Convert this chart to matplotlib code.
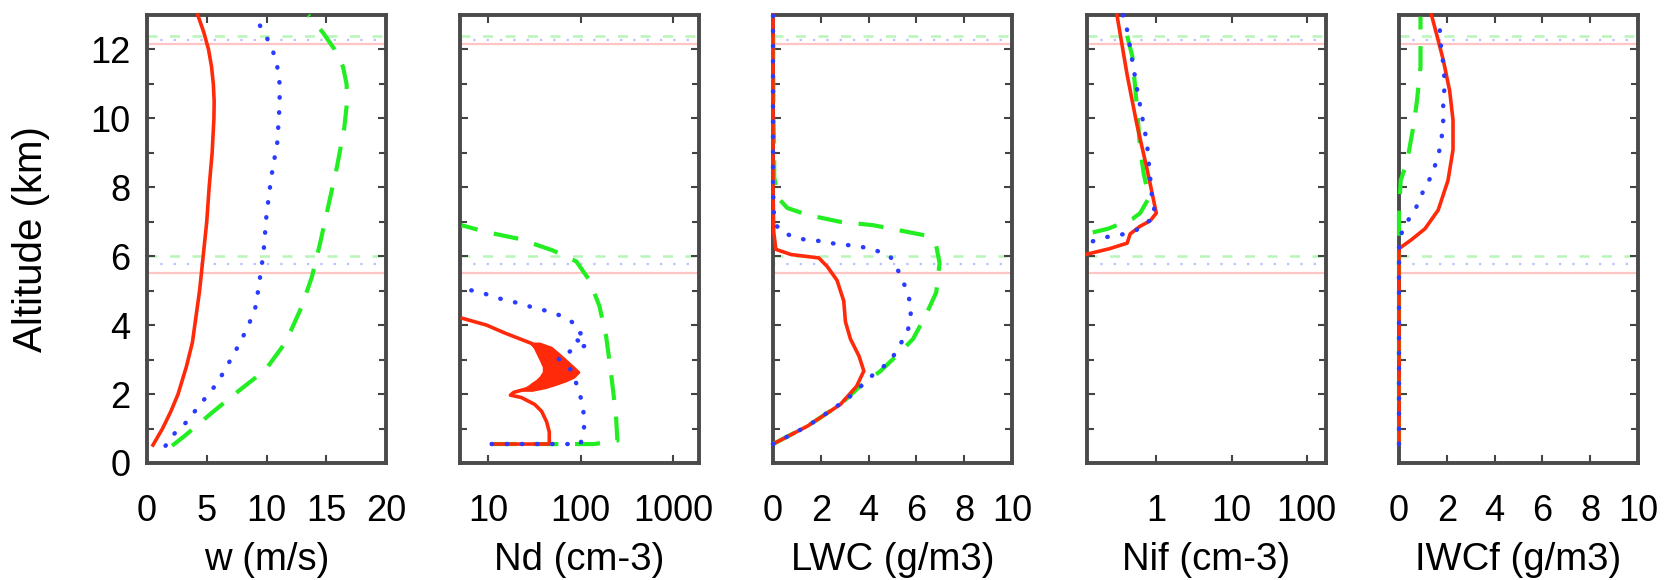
import numpy as np
import matplotlib
matplotlib.use("Agg")
import matplotlib.pyplot as plt
from matplotlib.ticker import MultipleLocator, NullLocator, FixedLocator, FixedFormatter

plt.rcParams['font.family'] = ['Liberation Sans', 'DejaVu Sans']

# --- data (altitude in km) ---
# w (m/s)
w_red_z = [0.52, 1.0, 1.5, 2.0, 2.8, 3.5, 4.25, 5.0, 6.0, 7.0, 8.0, 9.0, 10.0, 10.5, 11.0, 11.5, 12.0, 12.5, 13.0]
w_red = [0.5, 1.3, 2.0, 2.6, 3.3, 3.8, 4.1, 4.4, 4.7, 5.0, 5.2, 5.45, 5.6, 5.62, 5.55, 5.4, 5.15, 4.75, 4.25]
w_blue_z = [0.5, 0.9, 1.25, 1.65, 2.05, 2.45, 3.0, 3.5, 4.0, 4.5, 5.0, 6.1, 7.2, 8.3, 9.3, 10.4, 11.0, 11.5, 12.0, 12.5, 13.0]
w_blue = [1.55, 2.4, 3.5, 4.3, 5.3, 6.1, 7.0, 7.8, 8.5, 9.06, 9.3, 9.75, 10.0, 10.4, 10.9, 11.1, 11.1, 10.9, 10.5, 9.8, 8.9]
w_green_z = [0.5, 0.8, 1.45, 2.1, 2.7, 3.5, 4.5, 5.4, 6.4, 7.5, 8.6, 9.7, 10.5, 11.0, 11.5, 12.0, 12.5, 13.0]
w_green = [2.1, 3.2, 5.4, 7.7, 9.9, 11.6, 12.9, 13.8, 14.5, 15.2, 15.9, 16.5, 16.75, 16.7, 16.4, 15.7, 14.7, 13.5]

# Nd (cm-3): line plus the dense noisy blob between ~2.1 and 3.5 km
nd_red_z = [0.55, 0.55, 0.9, 1.2, 1.5, 1.7, 1.9, 1.97, 2.05, 2.15, 2.4, 2.64, 2.9, 3.2, 3.47, 3.77, 4.0, 4.2]
nd_red = [11, 46, 46, 43, 38, 32, 23, 17.5, 19, 26, 40, 60, 45, 38, 29.6, 15.3, 9.7, 5.3]
nd_blob_z = [2.12, 2.2, 2.3, 2.4, 2.5, 2.64, 2.8, 3.0, 3.2, 3.35, 3.47]
nd_blob_lo = [24, 27, 30, 34, 37, 40, 40, 37, 34, 32, 29.6]
nd_blob_hi = [30, 42, 55, 70, 84, 95, 82, 68, 56, 48, 36]
nd_blue_z = [0.55, 0.55, 0.9, 1.15, 1.68, 2.21, 2.7, 3.04, 3.28, 3.43, 3.62, 3.76, 3.9,
             4.19, 4.38, 4.5, 4.65, 4.78, 4.94, 5.07]
nd_blue = [11, 100, 108, 110, 106, 93, 79, 57, 82, 120, 82, 100, 98,
           73, 48.5, 32, 20.5, 13, 8.6, 5.3]
nd_green_z = [0.55, 0.55, 0.65, 1.4, 2.58, 3.67, 4.55, 5.3, 5.85, 6.17, 6.5, 6.7, 6.9]
nd_green = [11, 140, 250, 241, 214, 189, 160, 125, 90, 50, 22, 9.7, 5.2]

# LWC (g/m3)
lwc_red_z = [0.55, 1.07, 1.7, 2.23, 2.67, 3.1, 3.6, 4.1, 4.7, 5.3, 5.7, 5.95, 6.05, 6.2, 6.7, 8.0, 13.0]
lwc_red = [0.0, 1.44, 2.82, 3.5, 3.8, 3.6, 3.24, 3.03, 2.96, 2.68, 2.27, 1.92, 0.75, 0.12, 0.03, 0.0, 0.0]
lwc_blue_z = [0.55, 1.07, 1.85, 2.57, 2.95, 3.4, 3.9, 4.5, 5.0, 5.5, 6.0, 6.2, 6.3, 6.35, 6.45, 6.5,
              6.7, 7.0, 8.0, 13.0]
lwc_blue = [0.0, 1.44, 3.1, 4.2, 4.9, 5.3, 5.66, 5.8, 5.6, 5.3, 4.9, 4.2, 3.5, 2.7, 1.85, 1.16,
            0.33, 0.05, 0.0, 0.0]
lwc_green_z = [0.55, 1.07, 1.7, 2.2, 2.67, 3.2, 3.6, 4.3, 4.95, 5.8, 6.3, 6.6, 6.75, 6.9, 7.0, 7.2,
               7.4, 7.7, 8.3, 9.2, 10.0, 13.0]
lwc_green = [0.0, 1.44, 2.82, 3.6, 4.5, 5.3, 5.86, 6.4, 6.83, 6.97, 6.83, 6.4, 5.3, 4.2, 2.8, 1.44,
             0.6, 0.2, 0.05, 0.05, 0.02, 0.0]

# Nif (cm-3)
nif_red_z = [13.0, 11.26, 9.84, 8.55, 7.68, 7.25, 7.03, 6.87, 6.65, 6.38, 6.22, 6.06]
nif_red = [0.3, 0.41, 0.55, 0.75, 0.91, 1.0, 0.83, 0.61, 0.45, 0.41, 0.24, 0.12]
nif_blue_z = [13.0, 12.56, 10.9, 9.3, 7.68, 7.2, 6.82, 6.65, 6.55, 6.38]
nif_blue = [0.36, 0.41, 0.55, 0.75, 0.88, 0.97, 0.64, 0.39, 0.21, 0.12]
nif_green_z = [12.4, 11.8, 10.4, 9.1, 8.4, 7.7, 7.25, 7.08, 6.8, 6.65]
nif_green = [0.41, 0.48, 0.55, 0.61, 0.68, 0.8, 0.61, 0.48, 0.23, 0.12]

# IWCf (g/m3)
iwc_red_z = [0.55, 6.22, 6.49, 6.8, 7.34, 8.2, 9.09, 9.95, 10.8, 11.7, 12.45, 13.0]
iwc_red = [0.0, 0.0, 0.54, 1.09, 1.64, 2.05, 2.26, 2.26, 2.12, 1.85, 1.57, 1.36]
iwc_blue_z = [0.55, 6.49, 6.92, 7.34, 7.9, 8.34, 8.9, 9.4, 9.95, 10.5, 11.0, 11.6, 12.35, 12.95]
iwc_blue = [0.0, 0.0, 0.26, 0.67, 1.02, 1.36, 1.64, 1.78, 1.85, 1.85, 1.92, 1.85, 1.71, 1.71]
iwc_green_z = [0.55, 7.24, 8.2, 8.75, 9.84, 10.5, 11.5, 12.56, 12.95]
iwc_green = [0.0, 0.0, 0.07, 0.34, 0.62, 0.75, 0.9, 0.9, 0.9]

# faint reference levels (km): red, blue, green runs
levels_red = [12.15, 5.5]
levels_blue = [12.28, 5.78]
levels_green = [12.4, 6.0]

xlabels = ["w (m/s)", "Nd (cm-3)", "LWC (g/m3)", "Nif (cm-3)", "IWCf (g/m3)"]

RED, BLUE, GREEN = "#ff2a0a", "#2a3cff", "#22ee22"
FS = 26

W, H = 1669, 580
fig = plt.figure(figsize=(W / 100, H / 100), dpi=100)
lefts = [147, 460, 773, 1087, 1399]
pw = 239
top, bot = 15, 463

panels = [
    (w_red_z, w_red, w_blue_z, w_blue, w_green_z, w_green),
    (nd_red_z, nd_red, nd_blue_z, nd_blue, nd_green_z, nd_green),
    (lwc_red_z, lwc_red, lwc_blue_z, lwc_blue, lwc_green_z, lwc_green),
    (nif_red_z, nif_red, nif_blue_z, nif_blue, nif_green_z, nif_green),
    (iwc_red_z, iwc_red, iwc_blue_z, iwc_blue, iwc_green_z, iwc_green),
]

for i, (rz, rv, bz, bv, gz, gv) in enumerate(panels):
    ax = fig.add_axes([lefts[i] / W, 1 - bot / H, pw / W, (bot - top) / H])

    for lv in levels_red:
        ax.axhline(lv, color="#ffc4c4", lw=1.6, zorder=1)
    for lv in levels_blue:
        ax.axhline(lv, color="#b8c0ff", lw=1.6, ls=(0, (1, 5)), zorder=1)
    for lv in levels_green:
        ax.axhline(lv, color="#b8f5b8", lw=1.8, ls=(0, (4, 5)), zorder=1)

    ax.plot(gv, gz, color=GREEN, lw=3.0, ls=(0, (6, 4)), zorder=3, clip_on=False)
    ax.plot(rv, rz, color=RED, lw=2.6, zorder=3.5, clip_on=False)
    if i == 1:
        ax.fill_betweenx(nd_blob_z, nd_blob_lo, nd_blob_hi, color=RED, lw=2, edgecolor=RED, zorder=3.5)
    ax.plot(bv, bz, color=BLUE, lw=3.2, ls=(0, (0.1, 3.3)), dash_capstyle="round",
            zorder=4, clip_on=False)

    ax.set_ylim(0, 13)
    ax.yaxis.set_major_locator(MultipleLocator(2))
    ax.yaxis.set_minor_locator(MultipleLocator(1))

    if i == 0:
        ax.set_xlim(0, 20)
        ax.xaxis.set_major_locator(MultipleLocator(5))
    elif i == 1:
        ax.set_xscale("log")
        ax.set_xlim(5, 1900)
        ax.xaxis.set_major_locator(FixedLocator([10, 100, 1000]))
        ax.xaxis.set_major_formatter(FixedFormatter(["10", "100", "1000"]))
    elif i == 3:
        ax.set_xscale("log")
        ax.set_xlim(0.12, 180)
        ax.xaxis.set_major_locator(FixedLocator([1, 10, 100]))
        ax.xaxis.set_major_formatter(FixedFormatter(["1", "10", "100"]))
    else:
        ax.set_xlim(0, 10)
        ax.xaxis.set_major_locator(MultipleLocator(2))
    ax.xaxis.set_minor_locator(NullLocator())

    ax.tick_params(which="both", direction="in", top=True, right=True,
                   color="#444444", width=1.5, labelsize=FS)
    ax.tick_params(which="major", length=6)
    ax.tick_params(which="minor", length=5)
    ax.tick_params(axis="x", pad=22)
    ax.tick_params(axis="y", pad=12)
    for sp in ax.spines.values():
        sp.set_color("#4a4a4a")
        sp.set_linewidth(2.8)

    ax.set_xlabel(xlabels[i], fontsize=27.5, labelpad=10)
    if i == 0:
        ax.set_ylabel("Altitude (km)", fontsize=29, labelpad=29)
    else:
        ax.tick_params(axis="y", labelleft=False)

fig.savefig("out.png", dpi=100)
